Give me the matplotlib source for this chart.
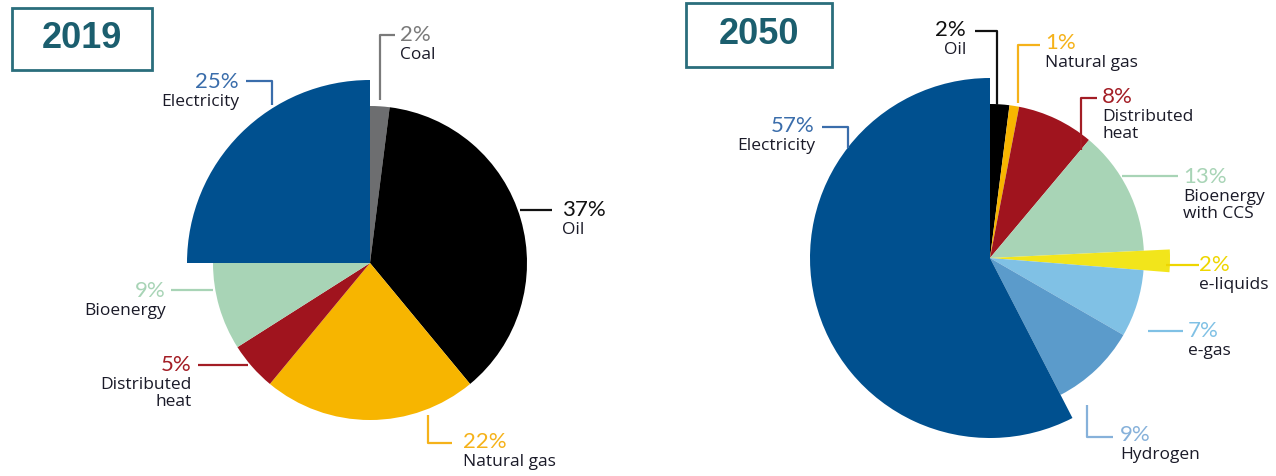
import matplotlib.pyplot as plt
from matplotlib.patches import Rectangle

# canvas in pixels, y measured from the top like the source image
W, H = 1276, 476

labels_2019 = ['Coal', 'Oil', 'Natural gas', 'Distributed\nheat', 'Bioenergy', 'Electricity']
shares_2019 = [2, 37, 22, 5, 9, 25]

labels_2050 = ['Oil', 'Natural gas', 'Distributed\nheat', 'Bioenergy\nwith CCS',
               'e-liquids', 'e-gas', 'Hydrogen', 'Electricity']
shares_2050 = [2, 1, 8, 13, 2, 7, 9, 57]

fill = {'Coal': '#6d6e70', 'Oil': '#000000', 'Natural gas': '#f7b500',
        'Distributed\nheat': '#a0141e', 'Bioenergy': '#a8d4b6',
        'Bioenergy\nwith CCS': '#a8d4b6', 'e-liquids': '#f2e51b',
        'e-gas': '#80c1e5', 'Hydrogen': '#5b9bcb', 'Electricity': '#00508f'}
pct_col = {'Coal': '#7a7a7a', 'Oil': '#111111', 'Natural gas': '#f5b21a',
           'Distributed\nheat': '#a31d25', 'Bioenergy': '#a8d4b6',
           'Bioenergy\nwith CCS': '#a8d4b6', 'e-liquids': '#eed600',
           'e-gas': '#80c1e5', 'Hydrogen': '#86b1da', 'Electricity': '#3a6dab'}

# label layout: pct text anchor, alignment, leader path (image px)
lay_2019 = {
    'Coal': (400, 35, 'left', [(380, 100), (380, 35), (395, 35)]),
    'Oil': (562, 210, 'left', [(520, 210), (552, 210)]),
    'Natural gas': (463, 442, 'left', [(428, 415), (428, 443), (452, 443)]),
    'Distributed\nheat': (192, 365, 'right', [(248, 365), (198, 365)]),
    'Bioenergy': (166, 291, 'right', [(213, 290), (171, 290)]),
    'Electricity': (239, 82, 'right', [(246, 81), (272, 81), (272, 105)]),
}
lay_2050 = {
    'Oil': (966, 30, 'right', [(975, 31), (997, 31), (997, 105)]),
    'Natural gas': (1045, 43, 'left', [(1018, 103), (1018, 45), (1040, 45)]),
    'Distributed\nheat': (1102, 97, 'left', [(1081, 150), (1081, 98), (1097, 98)]),
    'Bioenergy\nwith CCS': (1183, 177, 'left', [(1122, 176), (1178, 176)]),
    'e-liquids': (1199, 265, 'left', [(1166, 265), (1199, 265)]),
    'e-gas': (1188, 331, 'left', [(1148, 331), (1183, 331)]),
    'Hydrogen': (1120, 435, 'left', [(1087, 405), (1087, 437), (1113, 437)]),
    'Electricity': (815, 126, 'right', [(822, 127), (848, 127), (848, 148)]),
}

fig = plt.figure(figsize=(W / 100, H / 100), dpi=100)
ax = fig.add_axes([0, 0, 1, 1])


def Y(y):
    return H - y


def draw(labels, shares, center, r, big, r_big, layout):
    wedges, _ = ax.pie(shares, colors=[fill[l] for l in labels], startangle=90,
                       counterclock=False, radius=r, center=(center[0], Y(center[1])),
                       wedgeprops=dict(linewidth=0))
    for w, l in zip(wedges, labels):
        if l in big:
            w.set_radius(r_big)
    for l, s in zip(labels, shares):
        x, y, ha, path = layout[l]
        ax.plot([p[0] for p in path], [Y(p[1]) for p in path], color=pct_col[l], lw=1.6,
                solid_capstyle='butt')
        ax.text(x, Y(y), '%d%%' % s, ha=ha, va='center', color=pct_col[l],
                fontsize=16, family='Lato')
        ax.text(x, Y(y + 12), l, ha=ha, va='top', color='#1a1a28', fontsize=12.5,
                family='Open Sans', linespacing=1.12)


draw(labels_2019, shares_2019, (370, 263), 157, ['Electricity'], 183, lay_2019)
draw(labels_2050, shares_2050, (990, 258), 154, ['Electricity', 'e-liquids'], 180, lay_2050)

# year boxes
for x0, y0, w, h, txt in [(12, 8, 140, 62, '2019'), (686, 3, 146, 64, '2050')]:
    ax.add_patch(Rectangle((x0, Y(y0 + h)), w, h, fill=False, edgecolor='#2a6e7c', lw=2))
    ax.text(x0 + w / 2, Y(y0 + h / 2), txt, ha='center', va='center', fontsize=26,
            fontweight='bold', color='#1b5e6e', family='Liberation Sans')

ax.set_xlim(0, W)
ax.set_ylim(0, H)
ax.set_aspect('equal')
ax.axis('off')

fig.savefig('out.png', dpi=100)
